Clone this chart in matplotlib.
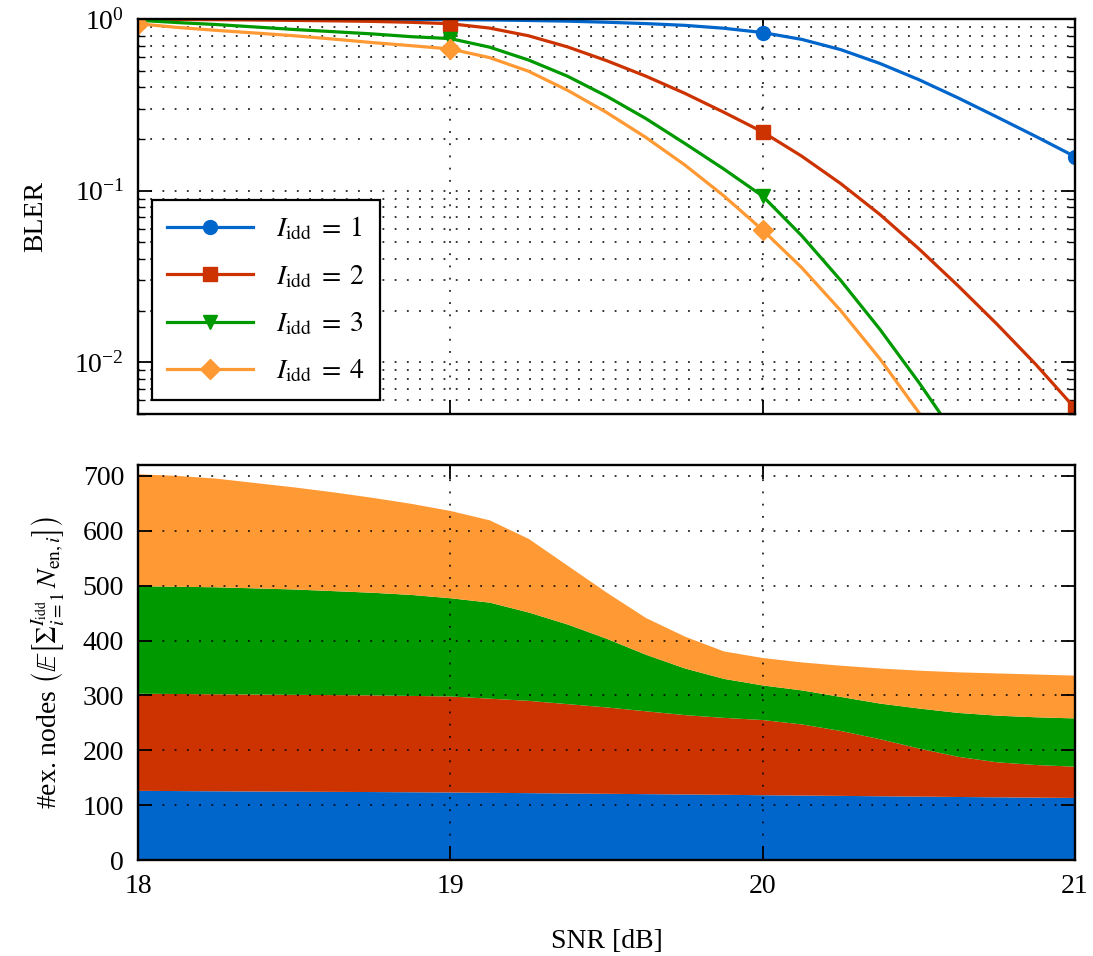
import numpy as np
import matplotlib
matplotlib.use("Agg")
import matplotlib.pyplot as plt
from matplotlib.ticker import LogLocator, NullFormatter, FixedLocator

plt.rcParams['font.family'] = ['Liberation Serif', 'DejaVu Serif']
plt.rcParams['mathtext.fontset'] = 'stix'

# ---- data ----
snr = [18.0, 18.125, 18.25, 18.375, 18.5, 18.625, 18.75, 18.875,
       19.0, 19.125, 19.25, 19.375, 19.5, 19.625, 19.75, 19.875,
       20.0, 20.125, 20.25, 20.375, 20.5, 20.625, 20.75, 20.875, 21.0]

bler_idd1 = [0.999, 0.999, 0.998, 0.998, 0.997, 0.996, 0.995, 0.994,
             0.993, 0.989, 0.982, 0.973, 0.959, 0.942, 0.92, 0.885,
             0.835, 0.762, 0.664, 0.552, 0.444, 0.348, 0.269, 0.207, 0.158]
bler_idd2 = [0.997, 0.995, 0.992, 0.988, 0.983, 0.977, 0.97, 0.958,
             0.94, 0.887, 0.80, 0.689, 0.573, 0.466, 0.37, 0.287,
             0.22, 0.159, 0.110, 0.0728, 0.0459, 0.028, 0.0167, 0.0097, 0.0054]
bler_idd3 = [0.985, 0.955, 0.93, 0.90, 0.87, 0.845, 0.82, 0.79,
             0.77, 0.687, 0.578, 0.465, 0.356, 0.264, 0.189, 0.134,
             0.093, 0.0547, 0.030, 0.0156, 0.00764, 0.00357, 0.0016, 0.00068, 0.00028]
bler_idd4 = [0.94, 0.895, 0.86, 0.83, 0.80, 0.765, 0.73, 0.70,
             0.67, 0.597, 0.497, 0.385, 0.286, 0.205, 0.1416, 0.0935,
             0.059, 0.0356, 0.02, 0.0105, 0.0051, 0.00235, 0.001, 0.0004, 0.00015]

# cumulative number of executed nodes after I_idd = 1..4 iterations
nodes_cum1 = [127, 126.6, 126.2, 125.8, 125.5, 125.1, 124.8, 124.4,
              124, 123.4, 122.8, 122.2, 121.6, 121, 120.4, 119.8,
              119, 118.4, 117.8, 117.1, 116.5, 115.8, 115.2, 114.6, 114]
nodes_cum2 = [304, 303.5, 303, 302.5, 302, 301.5, 301, 300,
              299, 295, 291, 285, 279, 272, 265, 260,
              256, 248, 236, 221, 204, 189, 179, 174, 171]
nodes_cum3 = [500, 499, 498, 496, 494, 491, 488, 484,
              478, 470, 452, 430, 404, 375, 350, 331,
              319, 310, 298, 286, 277, 269, 264, 261, 259]
nodes_cum4 = [704, 701, 696, 688, 680, 671, 661, 650,
              637, 620, 586, 537, 488, 442, 408, 381,
              369, 361, 355, 350, 346, 343, 341, 339, 337]

labels = [r'$I_{\mathrm{idd}}\;=\;1$', r'$I_{\mathrm{idd}}\;=\;2$',
          r'$I_{\mathrm{idd}}\;=\;3$', r'$I_{\mathrm{idd}}\;=\;4$']
colors = ['#0066CC', '#CC3300', '#009900', '#FF9933']
markers = ['o', 's', 'v', 'D']
x_ticks = [18, 19, 20, 21]

fig = plt.figure(figsize=(10.93, 9.56), dpi=100)
ax1 = fig.add_axes([0.1263, 0.567, 0.8572, 0.413])
ax2 = fig.add_axes([0.1263, 0.1004, 0.8572, 0.4132])

FS = 20
dot = (0, (1.2, 6.8))
mark_idx = [i for i, s in enumerate(snr) if float(s).is_integer()]

for y, c, m, lab in zip([bler_idd1, bler_idd2, bler_idd3, bler_idd4], colors, markers, labels):
    ms = 10 if m != 'D' else 10.5
    ax1.plot(snr, y, color=c, lw=2.3, marker=m, markersize=ms, markevery=mark_idx,
             markeredgecolor=c, label=lab, solid_joinstyle='round')

ax1.set_yscale('log')
ax1.set_ylim(5e-3, 1.0)
ax1.set_xlim(18, 21)
ax1.xaxis.set_major_locator(FixedLocator(x_ticks))
ax1.tick_params(labelbottom=False)
ax1.yaxis.set_major_locator(LogLocator(base=10, numticks=10))
ax1.yaxis.set_minor_locator(LogLocator(base=10, subs=np.arange(2, 10), numticks=20))
ax1.yaxis.set_minor_formatter(NullFormatter())
ax1.grid(True, which='major', axis='both', color='black', linestyle=dot, lw=1.1)
ax1.grid(True, which='minor', axis='y', color='black', linestyle=dot, lw=1.1)
ax1.set_ylabel('BLER', fontsize=FS, labelpad=19)

leg = ax1.legend(loc='lower left', fontsize=FS, handlelength=3.1, borderaxespad=0.5,
                 fancybox=False, framealpha=1.0, edgecolor='black', borderpad=0.55,
                 labelspacing=0.75, handletextpad=0.8)
leg.get_frame().set_linewidth(1.6)

bounds = [np.zeros(len(snr)), nodes_cum1, nodes_cum2, nodes_cum3, nodes_cum4]
for lo, hi, c in zip(bounds[:-1], bounds[1:], colors):
    ax2.fill_between(snr, lo, hi, color=c, lw=0)
ax2.set_xlim(18, 21)
ax2.set_ylim(0, 720)
ax2.xaxis.set_major_locator(FixedLocator(x_ticks))
ax2.set_yticks(np.arange(0, 701, 100))
ax2.set_axisbelow(False)
ax2.grid(True, which='major', axis='both', color='black', linestyle=dot, lw=1.1)
ax2.set_xlabel('SNR [dB]', fontsize=FS, labelpad=22)
ax2.set_ylabel(r'#ex. nodes $\left(\mathbb{E}\left[\Sigma_{i=1}^{I_{\mathrm{idd}}}\, N_{\mathrm{en},i}\right]\right)$',
               fontsize=FS, labelpad=12)

for ax in (ax1, ax2):
    for sp in ax.spines.values():
        sp.set_linewidth(1.7)
    ax.tick_params(which='major', direction='in', length=10, width=1.3, top=True, right=True,
                   labelsize=FS, pad=10)
    ax.tick_params(which='minor', direction='in', length=5, width=1.0, top=True, right=True)

fig.savefig('out.png', dpi=100)
